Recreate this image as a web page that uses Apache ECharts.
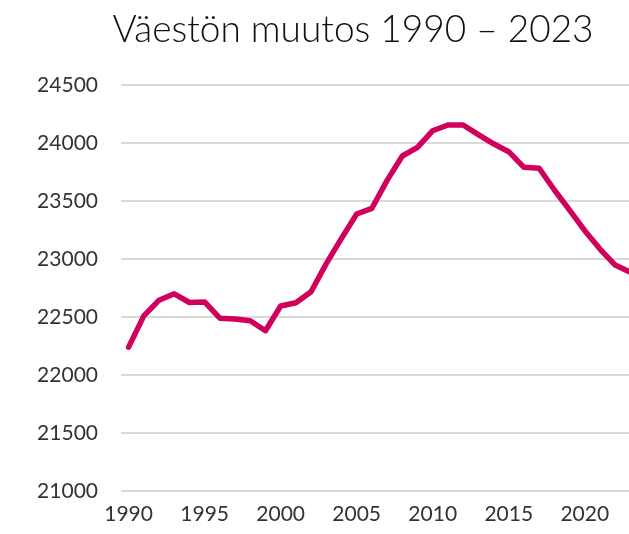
<!DOCTYPE html>
<html>
<head>
<meta charset="utf-8">
<script src="https://cdn.jsdelivr.net/npm/echarts@6/dist/echarts.min.js"></script>
<style>
    html, body { margin: 0; padding: 0; background: #fff; overflow: hidden; }
    .chart1 { width: 638px; height: 534px; }
</style>
</head>
<body>
<div class="chart1"></div>
<script>
var years = [];
for (var y = 1990; y <= 2023; y++) years.push(String(y));

var vaesto = [
    22240, 22510, 22645, 22700, 22625, 22630, 22490, 22483, 22468, 22382,
    22595, 22623, 22718, 22960, 23178, 23388, 23437, 23678, 23888, 23963,
    24106, 24155, 24155, 24072, 23993, 23925, 23790, 23782, 23595, 23422,
    23244, 23086, 22948, 22885
];

var yMin = 21000;
var yMax = 24500;
var yStep = 500;

var myChart1;
function initChart1() {
    var chartDom = document.querySelector('.chart1');
    myChart1 = echarts.init(chartDom);
    var option;

    option = {
        animation: false,
        title: {
            text: 'Väestön muutos 1990 – 2023',
            left: 348,
            textAlign: 'center',
            top: 7,
            textStyle: {
                fontFamily: 'Lato',
                fontWeight: 300,
                fontSize: 37,
                color: '#111'
            }
        },
        grid: {
            left: 121,
            right: 0,
            top: 85,
            bottom: 43
        },
        xAxis: {
            type: 'category',
            data: years,
            boundaryGap: true,
            axisLine: { show: false },
            axisTick: { show: false },
            axisLabel: {
                interval: 4,
                color: '#333',
                fontFamily: 'Lato',
                fontSize: 21,
                margin: 13
            }
        },
        yAxis: {
            type: 'value',
            min: yMin,
            max: yMax,
            interval: yStep,
            axisLine: { show: false },
            axisTick: { show: false },
            axisLabel: {
                color: '#333',
                fontFamily: 'Lato',
                fontSize: 21,
                margin: 23,
                formatter: function (value) {
                    return String(value);
                }
            },
            splitLine: {
                lineStyle: { color: '#d9d9d9', width: 2 }
            }
        },
        series: [
            {
                type: 'line',
                data: vaesto,
                symbol: 'none',
                lineStyle: { color: '#d1005b', width: 5.5, cap: 'round', join: 'round' }
            }
        ]
    };

    option && myChart1.setOption(option);
}

document.addEventListener('DOMContentLoaded', function () {
    initChart1();
});
</script>
</body>
</html>
